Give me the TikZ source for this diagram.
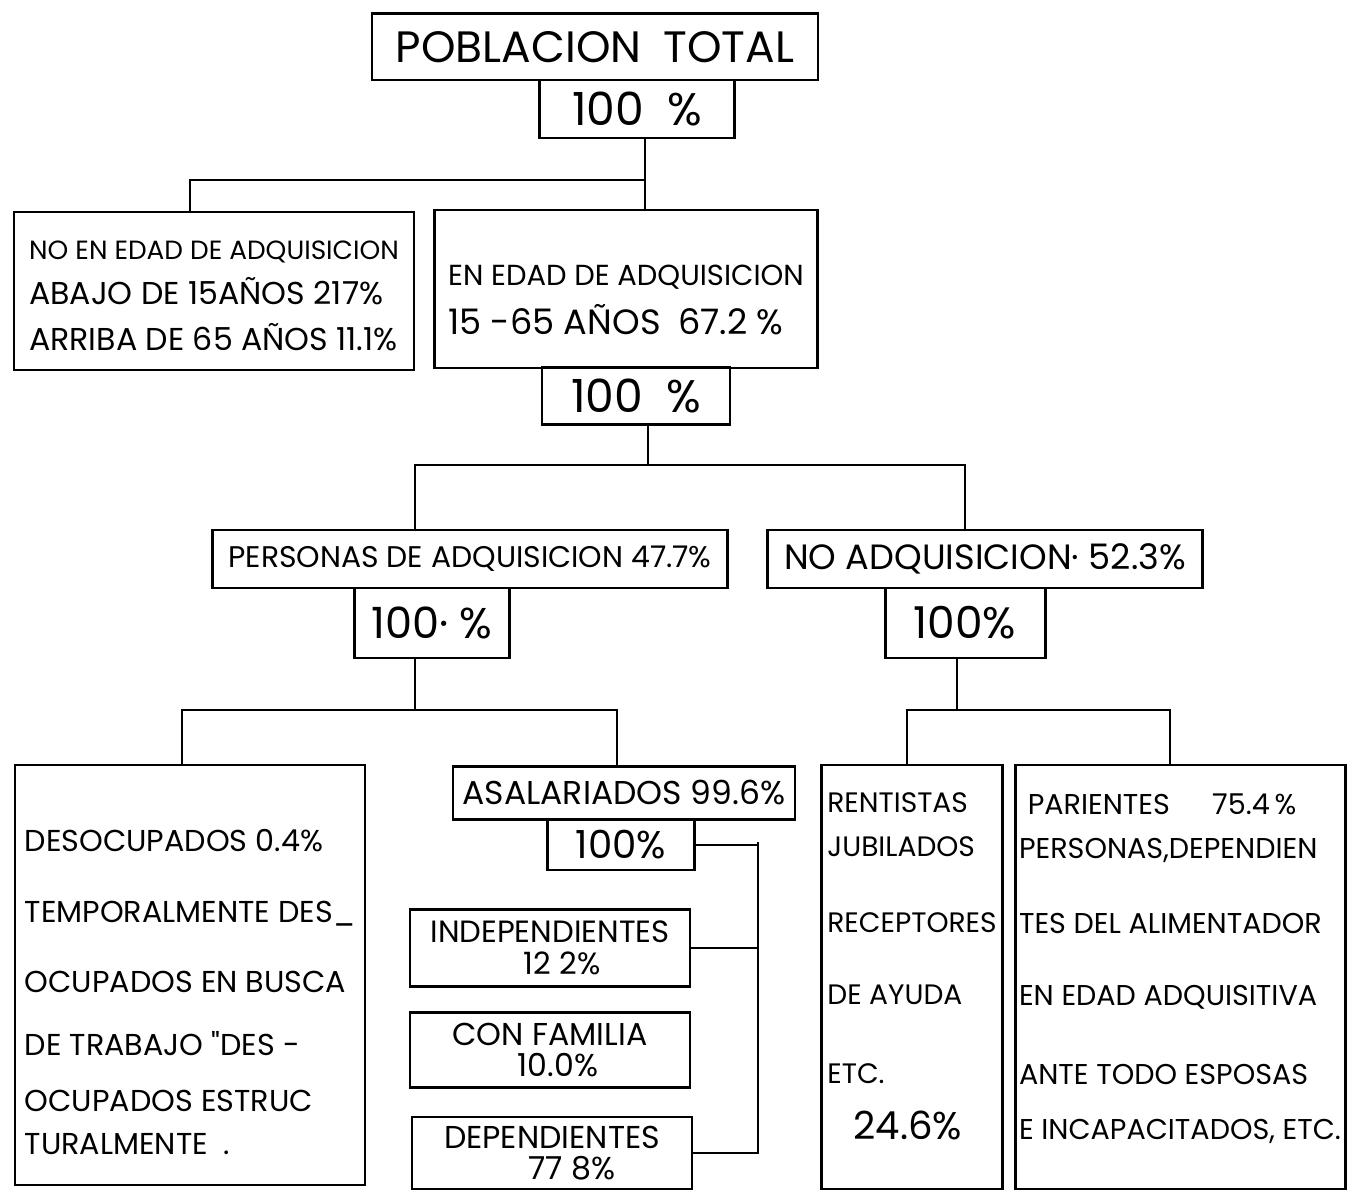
\documentclass[tikz,border=0pt]{standalone}
\usepackage{fontspec}
\setmainfont{Poppins}
\newfontfamily\plainqt{Poppins}

\begin{document}
\begin{tikzpicture}[x=0.02cm,y=-0.02cm,
		box/.style={draw,rectangle,line width=1.7pt,inner sep=2pt,align=left},
		wh/.style 2 args={minimum width=#1*0.02cm,minimum height=#2*0.02cm},
		fs/.style 2 args={font=\fontsize{#1}{#2}\selectfont},
		link/.style={line width=1pt}]
		\useasboundingbox (0,0) rectangle (1350,1192);
		% poblacion
		\node[box,wh={446}{66},fs={25}{30}] (tot) at (595,47) {POBLACION\enspace TOTAL};
		\node[box,wh={195}{58},fs={26}{30}] (tot100) at (637,109) {100\enspace\%};
		
		% edad
		\node[box,wh={400}{158},fs={15}{26}] (noedad) at (214,291) {\rule{0pt}{16pt}NO EN EDAD DE ADQUISICION\\{\fontsize{18}{26}\selectfont ABAJO DE 15AÑOS 217\%}\\{\fontsize{18}{26}\selectfont ARRIBA DE 65 AÑOS 11.1\%}};
		\node[box,wh={383}{158},fs={16.5}{28}] (edad) at (626,289) {\rule{0pt}{24pt}EN EDAD DE ADQUISICION\\{\fontsize{20}{28}\selectfont 15 -65 AÑOS\enspace 67.2 \%}};
		\node[box,wh={188}{57},fs={26}{30}] (edad100) at (636,396) {100\enspace\%};
		
		% adquisicion
		\node[box,wh={515}{58},fs={17}{20}] (pers) at (470,559) {PERSONAS DE ADQUISICION 47.7\%};
		\node[box,wh={435}{58},fs={20}{24}] (noadq) at (985,559) {NO ADQUISICION· 52.3\%};
		\node[box,wh={155}{70},fs={24.5}{28}] (pers100) at (432,623) {100· \%};
		\node[box,wh={160}{70},fs={25}{28}] (noadq100) at (965,623) {100\%};
		
		% personas de adquisicion
		\node[box,wh={350}{420},fs={17.2}{20}] (desoc) at (190,975) {\rule{0pt}{32pt}DESOCUPADOS 0.4\%\\[20pt]TEMPORALMENTE DES\_\\[20pt]OCUPADOS EN BUSCA\\[16pt]DE TRABAJO {\plainqt"}DES -\\[12pt]OCUPADOS ESTRUC\\[4pt]TURALMENTE\enspace .};
		\node[box,wh={342}{53},fs={18.8}{22}] (asal) at (624,793) {ASALARIADOS 99.6\%};
		\node[box,wh={147}{50},fs={22}{24}] (asal100) at (621,845) {100\%};
		\node[box,wh={280}{77},fs={17.5}{18}] (indep) at (550,948) {INDEPENDIENTES\\\hspace*{53pt}12 2\%};
		\node[box,wh={280}{75},fs={18}{18}] (confam) at (550,1050) {CON FAMILIA\\\hspace*{37pt}10.0\%};
		\node[box,wh={280}{72},fs={18}{18}] (dep) at (552,1153) {DEPENDIENTES\\\hspace*{48pt}77 8\%};
		
		% no adquisicion
		\node[box,wh={181}{424},fs={16}{18}] (rent) at (912,977) {RENTISTAS\\[7pt]JUBILADOS\\[25pt]RECEPTORES\\[23pt]DE AYUDA\\[27pt]ETC.\\[14pt]\hspace*{15pt}{\fontsize{22}{22}\selectfont 24.6\%}\rule[-12pt]{0pt}{12pt}};
		\node[box,wh={330}{424},fs={16.3}{18}] (par) at (1180,977) {\hspace*{5pt}PARIENTES\hspace{24pt}75.4\,\%\\[7pt]PERSONAS,DEPENDIEN\\[25pt]TES DEL ALIMENTADOR\\[23pt]EN EDAD ADQUISITIVA\\[27pt]ANTE TODO ESPOSAS\\[13pt]E INCAPACITADOS, ETC.\rule[-12pt]{0pt}{12pt}};
		
		% puntos de union
		\coordinate (j1) at (645,180);
		\coordinate (j1l) at (190,180);
		\coordinate (j2) at (648,465);
		\coordinate (j2l) at (415,465);
		\coordinate (j2r) at (965,465);
		\coordinate (j3) at (415,710);
		\coordinate (j3l) at (182,710);
		\coordinate (j3r) at (617,710);
		\coordinate (j4) at (957,710);
		\coordinate (j4l) at (907,710);
		\coordinate (j4r) at (1170,710);
		\coordinate (j5) at (758,842);
		
		\draw[link] (tot100.south -| j1) -- (edad.north -| j1);
		\draw[link] (j1) -- (j1l) -- (noedad.north -| j1l);
		\draw[link] (edad100.south -| j2) -- (j2);
		\draw[link] (pers.north -| j2l) -- (j2l) -- (j2r) -- (noadq.north -| j2r);
		\draw[link] (pers100.south -| j3) -- (j3);
		\draw[link] (desoc.north -| j3l) -- (j3l) -- (j3r) -- (asal.north -| j3r);
		\draw[link] (noadq100.south -| j4) -- (j4);
		\draw[link] (rent.north -| j4l) -- (j4l) -- (j4r) -- (par.north -| j4r);
		
		% asalariados
		\draw[link] (asal100.east) -- (asal100.east -| j5);
		\draw[link] (j5) -- (dep.east -| j5) -- (dep.east);
		\draw[link] (indep.east) -- (indep.east -| j5);
		
\end{tikzpicture}
\end{document}
